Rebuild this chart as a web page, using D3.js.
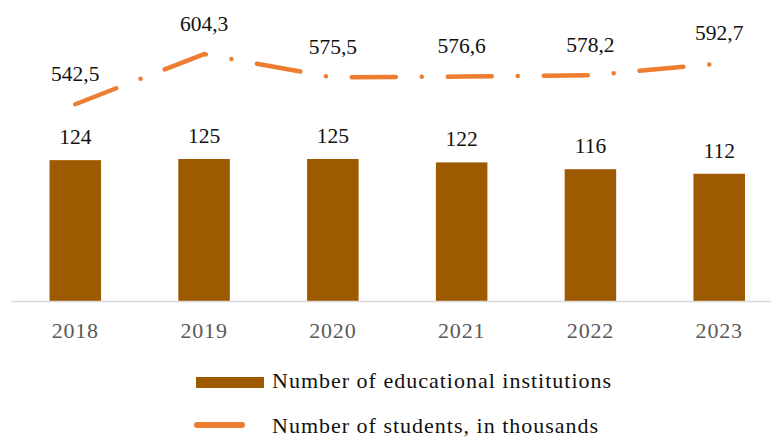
<!DOCTYPE html>
<html>
<head>
<meta charset="utf-8">
<script src="https://cdn.jsdelivr.net/npm/d3@7"></script>
<style>
  html, body { margin: 0; padding: 0; background: #fff; }
  svg { display: block; }
  text { font-family: "Liberation Serif", "Times New Roman", serif; }
</style>
</head>
<body>
<svg id="chart" width="771" height="437"></svg>
<script>
// Years and the two series
const years = ["2018", "2019", "2020", "2021", "2022", "2023"];
const institutions = [124, 125, 125, 122, 116, 112];
const students = [542.5, 604.3, 575.5, 576.6, 578.2, 592.7];
const seriesNames = ["Number of educational institutions", "Number of students, in thousands"];

const barColor = "#9E5A00";
const lineColor = "#ED7D31";

const svg = d3.select("#chart");
const W = 771, H = 437;

const plotTop = 17, plotBottom = 301;

const x = d3.scaleBand()
  .domain(years)
  .range([10.9, 783.6])
  .paddingInner(0.6)
  .paddingOuter(0.3);

const yBar = d3.scaleLinear().domain([0, 250]).range([plotBottom, plotTop]);
const yLine = d3.scaleLinear().domain([300, 650]).range([plotBottom, plotTop]);

const fmt = v => d3.format(".1f")(v).replace(".", ",");

// Bars
svg.append("g")
  .selectAll("rect")
  .data(years)
  .join("rect")
  .attr("x", d => x(d))
  .attr("width", x.bandwidth())
  .attr("y", (d, i) => yBar(institutions[i]))
  .attr("height", (d, i) => yBar(0) - yBar(institutions[i]))
  .attr("fill", barColor);

// Category axis line
svg.append("line")
  .attr("x1", 11).attr("x2", W)
  .attr("y1", plotBottom + 0.5).attr("y2", plotBottom + 0.5)
  .attr("stroke", "#d9d9d9")
  .attr("stroke-width", 1.5);

// Year labels
const xAxis = d3.axisBottom(x).tickSize(0).tickPadding(0);
const ax = svg.append("g").attr("transform", `translate(0,${plotBottom})`).call(xAxis);
ax.select(".domain").remove();
ax.selectAll("text")
  .attr("y", 37)
  .attr("dy", 0)
  .attr("fill", "#595959")
  .style("font-size", "22px")
  .style("letter-spacing", "0.8px")
  .style("font-family", "'Liberation Serif', 'Times New Roman', serif");

// Bar value labels
svg.append("g")
  .selectAll("text")
  .data(years)
  .join("text")
  .attr("x", d => x(d) + x.bandwidth() / 2)
  .attr("y", (d, i) => yBar(institutions[i]) - 16)
  .attr("text-anchor", "middle")
  .attr("fill", "#111")
  .style("font-size", "21.5px")
  .text((d, i) => institutions[i]);

// Students line (dash-dot)
const line = d3.line()
  .x((d, i) => x(years[i]) + x.bandwidth() / 2)
  .y(d => yLine(d));

svg.append("path")
  .datum(students)
  .attr("d", line)
  .attr("fill", "none")
  .attr("stroke", lineColor)
  .attr("stroke-width", 4.5)
  .attr("stroke-linecap", "round")
  .attr("stroke-linejoin", "round")
  .attr("stroke-dasharray", "44,26,0,26");

// Line value labels
svg.append("g")
  .selectAll("text")
  .data(students)
  .join("text")
  .attr("x", (d, i) => x(years[i]) + x.bandwidth() / 2)
  .attr("y", d => yLine(d) - 23.5)
  .attr("text-anchor", "middle")
  .attr("fill", "#111")
  .style("font-size", "21.5px")
  .text(d => fmt(d));

// Legend
const lg = svg.append("g");
lg.append("rect")
  .attr("x", 196).attr("y", 377)
  .attr("width", 68).attr("height", 11)
  .attr("fill", barColor);
lg.append("text")
  .attr("x", 272).attr("y", 388)
  .attr("fill", "#111")
  .style("font-size", "22px")
  .style("letter-spacing", "1px")
  .text(seriesNames[0]);
lg.append("line")
  .attr("x1", 197).attr("x2", 242)
  .attr("y1", 425).attr("y2", 425)
  .attr("stroke", lineColor)
  .attr("stroke-width", 6)
  .attr("stroke-linecap", "round");
lg.append("text")
  .attr("x", 272).attr("y", 433)
  .attr("fill", "#111")
  .style("font-size", "22px")
  .style("letter-spacing", "1px")
  .text(seriesNames[1]);
</script>
</body>
</html>
